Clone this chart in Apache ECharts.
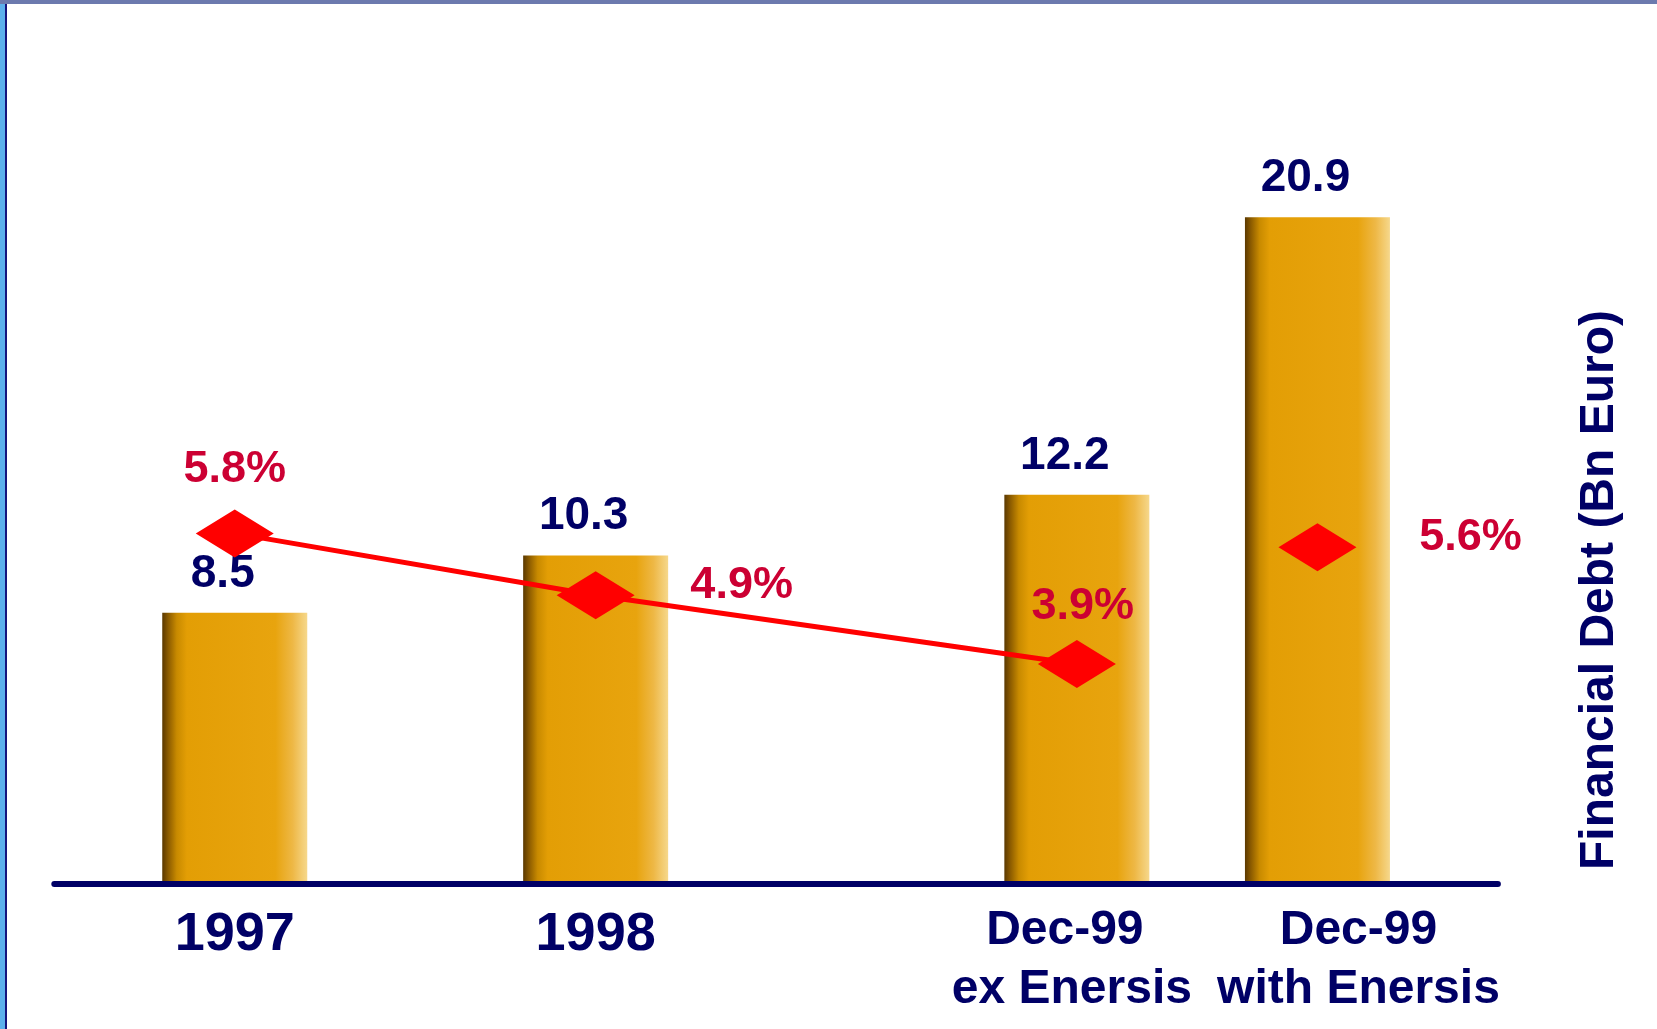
<!DOCTYPE html>
<html>
<head>
<meta charset="utf-8">
<title>Financial Debt</title>
<script src="https://cdn.jsdelivr.net/npm/echarts@6/dist/echarts.min.js"></script>
<style>
  html, body { margin: 0; padding: 0; background: #ffffff; }
  #chart { width: 1657px; height: 1029px; }
</style>
</head>
<body>
<div id="chart"></div>
<script>
// Axis slots: blank entries keep the uneven spacing between the periods.
const categories = ['', '1997', '', '', '1998', '', '', '', 'Dec-99\nex Enersis', '', 'Dec-99\nwith Enersis', ''];

// Financial debt, Bn Euro
const debtBn = [null, 8.5, null, null, 10.3, null, null, null, 12.2, null, 20.9, null];

// Average cost of debt, %
const costOfDebtPct = [null, 5.8, null, null, 4.9, null, null, null, 3.9, null, 5.6, null];

const axisTitle = 'Financial Debt (Bn Euro)';

const NAVY = '#000066';
const RED = '#ff0000';
const PCT_RED = '#cc0033';
const FONT = '"Liberation Sans", Arial, Helvetica, sans-serif';

// The trend line runs through the ex-Enersis periods; the with-Enersis
// figure is shown as a standalone marker.
const isWithEnersis = categories.map(c => c.indexOf('with Enersis') >= 0);
const trendPct = costOfDebtPct.map((v, i) => (isWithEnersis[i] ? null : v));
const withEnersisPct = costOfDebtPct.map((v, i) => (isWithEnersis[i] ? v : null));

// label placement around each diamond, by category
const pctLabelOffset = {
  '1997': [0, -64],
  '1998': [146, -10],
  'Dec-99\nex Enersis': [6, -57],
  'Dec-99\nwith Enersis': [153, -10]
};

function pctPoint(v, i) {
  if (v == null) return null;
  return {
    value: v,
    label: { offset: pctLabelOffset[categories[i]] || [0, 0] }
  };
}

const barGradient = new echarts.graphic.LinearGradient(0, 0, 1, 0, [
  { offset: 0.00, color: '#5a3800' },
  { offset: 0.04, color: '#8a5a00' },
  { offset: 0.10, color: '#c88a00' },
  { offset: 0.17, color: '#e39e05' },
  { offset: 0.78, color: '#e8a40e' },
  { offset: 0.90, color: '#eeb846' },
  { offset: 1.00, color: '#f6d88c' }
]);

const chart = echarts.init(document.getElementById('chart'), null, { renderer: 'canvas' });

chart.setOption({
  animation: false,
  backgroundColor: '#ffffff',
  textStyle: { fontFamily: FONT },
  grid: { left: 54.3, right: 159.1, top: 86.5, bottom: 145, containLabel: false },
  xAxis: {
    type: 'category',
    data: categories,
    z: 5,
    axisLine: { show: true, lineStyle: { color: NAVY, width: 6 } },
    axisTick: { show: false },
    splitLine: { show: false },
    axisLabel: {
      interval: 0,
      margin: 17.5,
      formatter: function (v) {
        if (!v) return '';
        const lines = v.split('\n');
        if (lines.length === 1) return '{yr|' + v + '}';
        if (v.indexOf('with') >= 0) return '{wi|' + lines[0] + '}\n{wi|' + lines[1] + '}';
        return '{ex1|' + lines[0] + '}\n{ex2|' + lines[1] + '}';
      },
      rich: {
        yr: { fontFamily: FONT, fontSize: 54, fontWeight: 'bold', color: NAVY, lineHeight: 67 },
        ex1: { fontFamily: FONT, fontSize: 48, fontWeight: 'bold', color: NAVY, lineHeight: 59, padding: [0, 24, 0, 0] },
        ex2: { fontFamily: FONT, fontSize: 48, fontWeight: 'bold', color: NAVY, lineHeight: 59, padding: [0, 10, 0, 0] },
        wi: { fontFamily: FONT, fontSize: 48, fontWeight: 'bold', color: NAVY, lineHeight: 59, padding: [0, 0, 0, 82] }
      }
    }
  },
  yAxis: [
    { type: 'value', min: 0, max: 25, show: false, splitLine: { show: false } },
    { type: 'value', min: 0.7, max: 12.3, show: false, splitLine: { show: false } }
  ],
  series: [
    {
      name: 'Financial Debt',
      type: 'bar',
      data: debtBn,
      barWidth: 145,
      z: 2,
      itemStyle: { color: barGradient },
      label: {
        show: true,
        position: 'top',
        distance: 16,
        offset: [-12, 0],
        fontFamily: FONT,
        fontSize: 46,
        fontWeight: 'bold',
        color: NAVY,
        formatter: p => Number(p.value).toFixed(1)
      }
    },
    {
      name: 'Cost of debt',
      type: 'line',
      yAxisIndex: 1,
      data: trendPct.map(pctPoint),
      connectNulls: true,
      z: 6,
      symbol: 'diamond',
      symbolSize: [78, 48],
      lineStyle: { color: RED, width: 5 },
      itemStyle: { color: RED },
      label: {
        show: true,
        position: 'inside',
        fontFamily: FONT,
        fontSize: 45,
        fontWeight: 'bold',
        color: PCT_RED,
        formatter: p => Number(p.value).toFixed(1) + '%'
      }
    },
    {
      name: 'Cost of debt with Enersis',
      type: 'line',
      yAxisIndex: 1,
      data: withEnersisPct.map(pctPoint),
      z: 6,
      symbol: 'diamond',
      symbolSize: [78, 48],
      lineStyle: { width: 0 },
      itemStyle: { color: RED },
      label: {
        show: true,
        position: 'inside',
        fontFamily: FONT,
        fontSize: 45,
        fontWeight: 'bold',
        color: PCT_RED,
        formatter: p => Number(p.value).toFixed(1) + '%'
      }
    }
  ],
  graphic: [
    // slide frame: light blue strip and navy rule on the left, band along the top
    { type: 'rect', left: 0, top: 0, shape: { width: 5, height: 1029 }, style: { fill: '#5cb0ec' }, silent: true },
    { type: 'rect', left: 5, top: 4, shape: { width: 2, height: 1025 }, style: { fill: '#14147e' }, silent: true },
    { type: 'rect', left: 0, top: 0, shape: { width: 1657, height: 4 }, style: { fill: '#6c7aae' }, silent: true },
    {
      type: 'text',
      x: 1600,
      y: 590,
      rotation: Math.PI / 2,
      silent: true,
      style: {
        text: axisTitle,
        font: 'bold 48px ' + FONT,
        fill: NAVY,
        textAlign: 'center',
        textVerticalAlign: 'middle'
      }
    }
  ]
});
</script>
</body>
</html>
